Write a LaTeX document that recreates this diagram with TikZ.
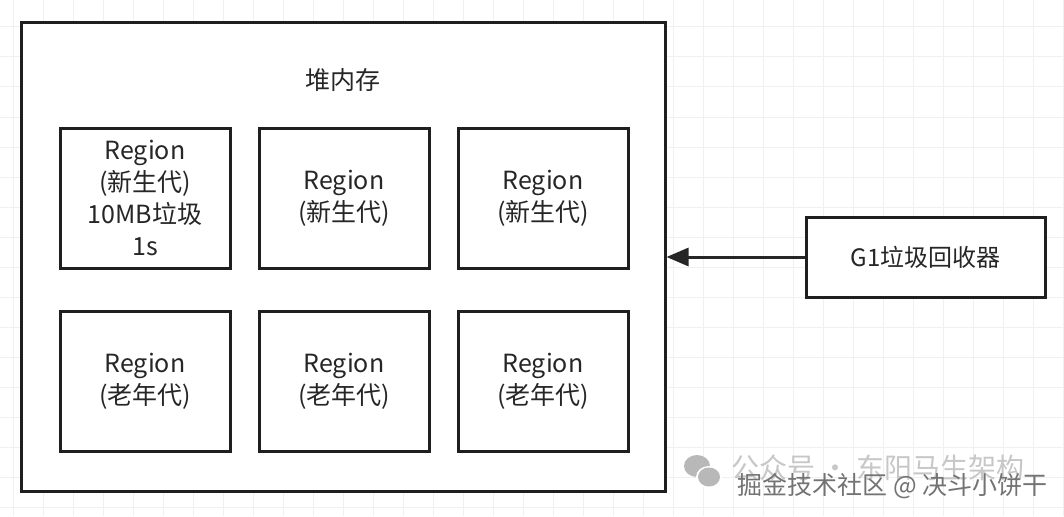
\documentclass[tikz,border=0pt]{standalone}
\usepackage{fontspec}
\setmainfont{Noto Sans CJK SC}
\usetikzlibrary{arrows.meta}
\begin{document}
\begin{tikzpicture}[x=1pt,y=-1pt,
  box/.style={draw=black!88,line width=3pt,fill=white},
  region/.style={box,minimum width=170pt,minimum height=140pt,align=center,font=\fontsize{25}{32}\selectfont,text=black!85,inner sep=0pt},
  lbl/.style={font=\fontsize{25}{32}\selectfont,text=black!85}]
\useasboundingbox (0,0) rectangle (1064,516);
\fill[white] (0,0) rectangle (1064,516);
\foreach \x in {13,43,...,1063} \draw[black!6,line width=1pt] (\x,0) -- (\x,516);
\foreach \y in {27,57,...,516} \draw[black!6,line width=1pt] (0,\y) -- (1064,\y);
\node[box,minimum width=644pt,minimum height=468pt,inner sep=0pt] (heap) at (343,257) {};
\node[lbl] (title) at (343,80) {堆内存};
\node[region] (r1) at (145,198) {Region\\(新生代)\\10MB垃圾\\1s};
\node[region] (r2) at (344,198) {Region\\(新生代)};
\node[region] (r3) at (543,198) {Region\\(新生代)};
\node[region] (r4) at (145,381) {Region\\(老年代)};
\node[region] (r5) at (344,381) {Region\\(老年代)};
\node[region] (r6) at (543,381) {Region\\(老年代)};
\node[box,minimum width=239pt,minimum height=80pt,inner sep=0pt,lbl,font=\fontsize{24}{32}\selectfont] (g1) at (925.5,257) {G1垃圾回收器};
\draw[black!85,line width=3pt,-{Triangle[length=22pt,width=18pt]}] (g1.west) -- (g1.west -| heap.east);
% watermark
\fill[black!28] (697,466) ellipse (13pt and 11pt);
\fill[white] (709,477) ellipse (13pt and 11pt);
\fill[black!28] (709,477) ellipse (11pt and 9.5pt);
\node[font=\fontsize{28}{30}\selectfont,text=black!22,anchor=west] (wm1) at (728,468) {公众号 · 东阳马生架构};
\node[font=\fontsize{25}{28}\selectfont,text=black!55,anchor=west] (wm2) at (734,486) {掘金技术社区 @ 决斗小饼干};
\end{tikzpicture}
\end{document}
